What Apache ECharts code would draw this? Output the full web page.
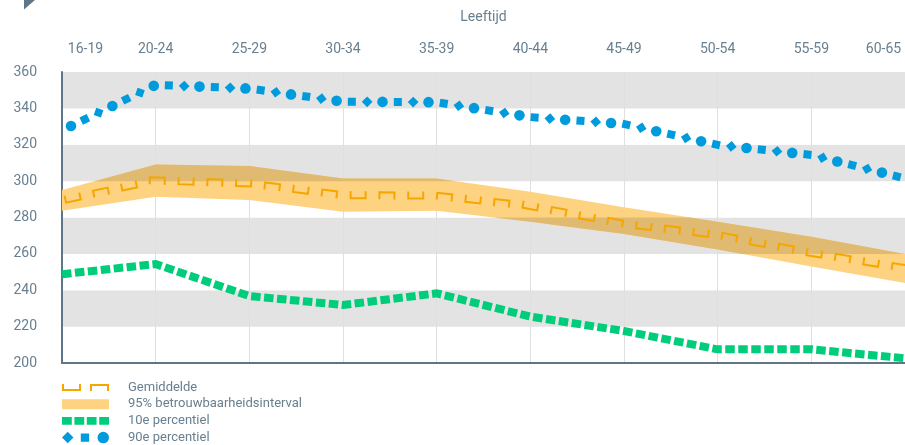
<!DOCTYPE html>
<html>
<head>
<meta charset="utf-8">
<script src="https://cdn.jsdelivr.net/npm/echarts@6/dist/echarts.min.js"></script>
<style>
html,body{margin:0;padding:0;background:#fff;}
#chart{width:905px;height:445px;}
</style>
</head>
<body>
<div id="chart"></div>
<script>
// ---- data ----
const ageGroups = ['16-19','20-24','25-29','30-34','35-39','40-44','45-49','50-54','55-59','60-65'];
const meanValues = [289.4, 300.4, 298.7, 292.3, 292.0, 286.3, 276.5, 270.4, 260.5, 252.2];
const ciUpper   = [295.1, 309.2, 308.3, 301.5, 301.5, 294.2, 285.6, 277.7, 269.4, 260.0];
const ciLower   = [283.7, 291.4, 289.6, 283.2, 283.7, 277.7, 270.9, 262.4, 253.0, 244.0];
const p10Values = [248.8, 254.4, 236.8, 231.9, 238.3, 225.5, 217.6, 207.5, 207.5, 202.6];
const p90Values = [327.9, 352.9, 350.9, 343.7, 343.4, 335.2, 331.4, 319.9, 314.4, 301.5];
const seriesNames = ['Gemiddelde', '95% betrouwbaarheidsinterval', '10e percentiel', '90e percentiel'];
const axisTitle = 'Leeftijd';
const yMin = 200, yMax = 360, yStep = 20;

// ---- styles ----
const TEXT = '#687f8f';
const AXIS = '#5e7687';
const ORANGE = '#f5a700';
const BAND = '#fdd281';
const BAND_ON_GREY = '#dfba70';
const GREY = '#e3e3e3';
const GREEN = '#00cd7a';
const BLUE = '#009bdc';
const FONT = 'Roboto';

function dist(a, b) { return Math.hypot(b[0] - a[0], b[1] - a[1]); }
function rotPts(local, ang, cx, cy) {
  const c = Math.cos(ang), s = Math.sin(ang);
  return local.map(p => [cx + p[0] * c - p[1] * s, cy + p[0] * s + p[1] * c]);
}
// clip polygon to half-plane y >= yc (below=true) or y <= yc
function clipHalf(poly, yc, below) {
  const out = [], n = poly.length;
  const inside = p => below ? p[1] >= yc : p[1] <= yc;
  const inter = (p, c) => { const t = (yc - p[1]) / (c[1] - p[1]); return [p[0] + t * (c[0] - p[0]), yc]; };
  for (let i = 0; i < n; i++) {
    const cur = poly[i], prev = poly[(i + n - 1) % n];
    const ic = inside(cur), ip = inside(prev);
    if (ic) { if (!ip) out.push(inter(prev, cur)); out.push(cur); }
    else if (ip) out.push(inter(prev, cur));
  }
  return out;
}
// place repeating marks along the polyline of a series, segment by segment
function patternRenderer(values, start, step, drawMark) {
  return function (params, api) {
    const i = params.dataIndex;
    if (i >= values.length - 1) return null;
    const pts = values.map((v, k) => api.coord([k, v]));
    let cum = 0;
    for (let k = 0; k < i; k++) cum += dist(pts[k], pts[k + 1]);
    const a = pts[i], b = pts[i + 1];
    const seg = dist(a, b);
    const ang = Math.atan2(b[1] - a[1], b[0] - a[0]);
    const children = [];
    let n = Math.max(0, Math.ceil((cum - start) / step - 1e-9));
    for (; start + n * step < cum + seg; n++) {
      const t = (start + n * step - cum) / seg;
      const x = a[0] + (b[0] - a[0]) * t, y = a[1] + (b[1] - a[1]) * t;
      children.push(drawMark(n, x, y, ang));
    }
    return { type: 'group', children };
  };
}

const blueMark = (n, x, y, ang) => {
  const k = n % 3;
  if (k === 0) return { type: 'circle', shape: { cx: x, cy: y, r: 5.3 }, style: { fill: BLUE } };
  const h = k === 1 ? 4 : 3.8;
  const a = k === 1 ? ang : ang + Math.PI / 4;
  return { type: 'polygon', shape: { points: rotPts([[-h,-h],[h,-h],[h,h],[-h,h]], a, x, y) }, style: { fill: BLUE } };
};
const orangeMark = (n, x, y, ang) => {
  const local = n % 2 === 0
    ? [[-7.5,-4],[-7.5,3],[7.5,3],[7.5,-4]]
    : [[-7.5,4],[-7.5,-3],[7.5,-3],[7.5,4]];
  return { type: 'polyline', shape: { points: rotPts(local, ang, x, y) },
    style: { stroke: ORANGE, lineWidth: 2, fill: null, lineJoin: 'miter', lineCap: 'butt' } };
};

const chart = echarts.init(document.getElementById('chart'), null, { renderer: 'canvas' });
const last = ageGroups.length - 1;

chart.setOption({
  animation: false,
  textStyle: { fontFamily: FONT },
  grid: { left: 62, right: 0, top: 72, bottom: 82, containLabel: false },
  graphic: [{ type: 'polygon', shape: { points: [[24,0],[35,0],[24,9.5]] }, style: { fill: AXIS } }],
  legend: {
    orient: 'vertical', left: 62, top: 381, height: 100, padding: 0,
    itemWidth: 47, itemHeight: 12, itemGap: 3.7,
    textStyle: { color: TEXT, fontSize: 13, fontFamily: FONT, padding: [0,0,0,14] },
    data: [
      { name: seriesNames[0], icon: 'path://M0 0H2V5H17V0H19V7H0Z M28 0H47V7H45V2H30V7H28Z' },
      { name: seriesNames[1], icon: 'path://M0 0H47V10H0Z' },
      { name: seriesNames[2], icon: 'path://M0 0H10V8H0Z M12.7 0H22.7V8H12.7Z M25.3 0H35.3V8H25.3Z M38 0H48V8H38Z' },
      { name: seriesNames[3], icon: 'path://M0 5.5L5.5 0L11 5.5L5.5 11Z M18 1.5H26V9.5H18Z M34 5.5A5.5 5.5 0 1 1 45 5.5A5.5 5.5 0 1 1 34 5.5Z' }
    ]
  },
  xAxis: [{
    type: 'category', data: ageGroups, boundaryGap: false, position: 'top',
    name: axisTitle, nameLocation: 'middle', nameGap: 48,
    nameTextStyle: { color: TEXT, fontSize: 14, fontFamily: FONT },
    axisLine: { show: false }, axisTick: { show: false },
    axisLabel: {
      interval: 0, margin: 16, color: TEXT, fontSize: 14, fontFamily: FONT,
      formatter: (v, i) => i === 0 ? '{first|' + v + '}' : (i === last ? '{last|' + v + '}' : v),
      rich: {
        first: { padding: [0,0,0,47], color: TEXT, fontSize: 14, fontFamily: FONT },
        last: { padding: [0,43,0,0], color: TEXT, fontSize: 14, fontFamily: FONT }
      }
    },
    splitLine: { show: true, lineStyle: { color: '#dfdfdf', width: 1 } }
  }, {
    type: 'category', data: ageGroups, boundaryGap: false, position: 'bottom',
    axisLine: { show: true, lineStyle: { color: AXIS, width: 2 } },
    axisTick: { show: false }, axisLabel: { show: false }, splitLine: { show: false }
  }],
  yAxis: {
    type: 'value', min: yMin, max: yMax, interval: yStep,
    axisLine: { show: true, lineStyle: { color: AXIS, width: 2 } },
    axisTick: { show: false },
    axisLabel: { color: TEXT, fontSize: 14, margin: 25, fontFamily: FONT },
    splitLine: { show: false },
    splitArea: { show: true, areaStyle: { color: ['#ffffff', GREY] } }
  },
  series: [
    {
      name: seriesNames[0], type: 'custom', coordinateSystem: 'cartesian2d',
      itemStyle: { color: ORANGE }, z: 4,
      data: meanValues.map((v, i) => [i, v]), encode: { x: 0, y: 1 },
      renderItem: patternRenderer(meanValues, 11, 28.8, orangeMark)
    },
    {
      name: seriesNames[1], type: 'custom', coordinateSystem: 'cartesian2d',
      itemStyle: { color: BAND }, z: 2,
      data: ciLower.map((v, i) => [i, v, ciUpper[i]]), encode: { x: 0, y: [1, 2] },
      renderItem: (params, api) => {
        if (params.dataIndex !== 0) return null;
        const up = ciUpper.map((v, i) => api.coord([i, v]));
        const lo = ciLower.map((v, i) => api.coord([i, v])).reverse();
        const poly = up.concat(lo);
        const children = [{ type: 'polygon', shape: { points: poly }, style: { fill: BAND } }];
        // darker tint where the band lies over a grey stripe
        for (let v = yMin + yStep; v < yMax; v += 2 * yStep) {
          const yTop = api.coord([0, v + yStep])[1], yBot = api.coord([0, v])[1];
          let part = clipHalf(poly, yTop, true);
          if (part.length) part = clipHalf(part, yBot, false);
          if (part.length > 2) children.push({ type: 'polygon', shape: { points: part }, style: { fill: BAND_ON_GREY } });
        }
        return { type: 'group', children };
      }
    },
    {
      name: seriesNames[2], type: 'line', color: GREEN, z: 3,
      data: p10Values, symbol: 'none', smooth: false,
      lineStyle: { color: GREEN, width: 8, type: [9.5, 3.5], cap: 'butt', join: 'miter' }
    },
    {
      name: seriesNames[3], type: 'custom', coordinateSystem: 'cartesian2d',
      itemStyle: { color: BLUE }, z: 4,
      data: p90Values.map((v, i) => [i, v]), encode: { x: 0, y: 1 },
      renderItem: patternRenderer(p90Values, 10, 15.33, blueMark)
    }
  ]
});
</script>
</body>
</html>
